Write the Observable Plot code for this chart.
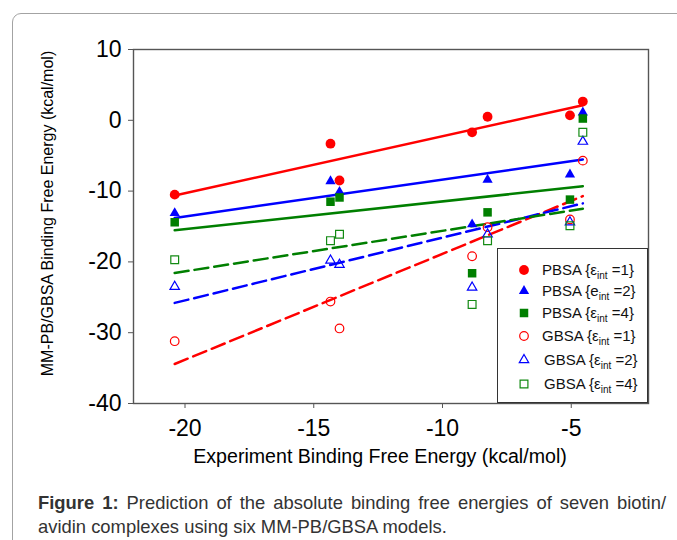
<!DOCTYPE html>
<html><head><meta charset="utf-8">
<script src="https://cdn.jsdelivr.net/npm/d3@7"></script>
<script src="https://cdn.jsdelivr.net/npm/@observablehq/plot@0.6"></script>
<style>
html,body{margin:0;padding:0;background:#fff;}
#page{position:relative;width:677px;height:540px;overflow:hidden;font-family:"Liberation Sans",Arial,sans-serif;background:#fff;}
#card{position:absolute;left:12px;top:13px;width:720px;height:620px;border:1px solid #a3a3a3;border-radius:9px;}
#chart{position:absolute;left:0;top:0;}
#legend{position:absolute;left:497px;top:248px;width:151px;height:155px;border:1.5px solid #333;background:#fff;box-sizing:border-box;}
.lrow{position:absolute;left:0;width:150px;height:0;}
.lrow svg{position:absolute;top:-8px;}
.lrow .txt{position:absolute;top:-9px;font-size:15px;line-height:18px;color:#111;white-space:nowrap;}
.lrow sub{font-size:10px;vertical-align:-4px;line-height:0;}
#caption{position:absolute;left:38px;top:491px;width:628px;font-size:18.4px;line-height:24px;color:#333;}
#caption .l1{text-align:justify;text-align-last:justify;white-space:nowrap;}
</style></head>
<body>
<div id="page">
  <div id="card"></div>
  <div id="chart"></div>
  <div id="legend"></div>
  <div id="caption">
    <div class="l1"><b>Figure 1:</b> Prediction of the absolute binding free energies of seven biotin/</div>
    <div>avidin complexes using six MM-PB/GBSA models.</div>
  </div>
</div>
<script>
// Experimental binding free energies (kcal/mol), seven complexes
const experiment = [-20.4, -14.35, -14.0, -8.85, -8.25, -5.05, -4.55];
// Predicted binding free energies (kcal/mol)
const pbsa1 = [-10.5, -3.3, -8.5, -1.7, 0.5, 0.7, 2.65];
const pbsa2 = [-13.1, -8.6, -10.1, -14.7, -8.4, -7.65, 1.1];
const pbsa4 = [-14.4, -11.5, -10.9, -21.6, -13.0, -11.2, 0.25];
const gbsa1 = [-31.2, -25.6, -29.4, -19.2, -15.1, -14.0, -5.7];
const gbsa2 = [-23.5, -19.8, -20.4, -23.6, -16.1, -14.4, -3.0];
const gbsa4 = [-19.7, -17.0, -16.1, -26.0, -17.0, -14.9, -1.7];
// Legend text
const legendNames = [
  ["PBSA {ε", "int", " =1}"],
  ["PBSA {e", "int", " =2}"],
  ["PBSA {ε", "int", " =4}"],
  ["GBSA {ε", "int", " =1}"],
  ["GBSA {ε", "int", " =2}"],
  ["GBSA {ε", "int", " =4}"]
];
const xTicks = [-20, -15, -10, -5];
const yTicks = [10, 0, -10, -20, -30, -40];

const seriesValues = [pbsa1, pbsa2, pbsa4, gbsa1, gbsa2, gbsa4];
const styles = [
  {color:"#ff0000", symbol:"circle",   r:4.9, filled:true,  dash:null},
  {color:"#0000ff", symbol:"triangle", r:3.8, filled:true,  dash:null},
  {color:"#007f00", symbol:"square",   r:4.8, filled:true,  dash:null},
  {color:"#ff0000", symbol:"circle",   r:4.3, filled:false, dash:"14,6"},
  {color:"#0000ff", symbol:"triangle", r:3.5, filled:false, dash:"14,6"},
  {color:"#138a13", symbol:"square",   r:4.4, filled:false, dash:"14,6"}
];
const lineColors = ["#ff0000","#0000ff","#007f00","#ff0000","#0000ff","#007f00"];

const tables = seriesValues.map(vals => experiment.map((x, i) => ({x, y: vals[i]})));

const marks = [Plot.frame({stroke:"#555", strokeWidth:1.4})];
tables.forEach((t, k) => {
  marks.push(Plot.linearRegressionY(t, {x:"x", y:"y", ci:0, stroke:lineColors[k], strokeWidth:2.5,
    strokeDasharray: styles[k].dash || undefined}));
});
tables.forEach((t, k) => {
  const s = styles[k];
  marks.push(Plot.dot(t, {x:"x", y:"y", symbol:s.symbol, r:s.r,
    fill: s.filled ? s.color : "none", stroke: s.filled ? "none" : s.color, strokeWidth: s.filled ? 0 : 1.2}));
});
marks.push(Plot.axisX({ticks:xTicks, tickSize:5, tickPadding:11, fontSize:23, tickFormat:d=>String(d), label:null, stroke:"#555", fill:"#000"}));
marks.push(Plot.axisY({ticks:yTicks, tickSize:5, tickPadding:7, fontSize:23, tickFormat:d=>String(d), label:null, stroke:"#555", fill:"#000"}));
marks.push(Plot.text(["Experiment Binding Free Energy (kcal/mol)"], {frameAnchor:"bottom", textAnchor:"middle", dx:-11, dy:59, fontSize:19.6, fill:"#000"}));
marks.push(Plot.text(["MM-PB/GBSA Binding Free Energy (kcal/mol)"], {frameAnchor:"left", textAnchor:"middle", dx:-86, dy:-13, rotate:-90, fontSize:16, fill:"#000"}));

const chart = Plot.plot({
  width:677, height:480,
  marginLeft:133, marginRight:29, marginTop:49, marginBottom:77,
  x:{domain:[-22,-2]},
  y:{domain:[-40,10]},
  style:{fontFamily:"'Liberation Sans', Arial, sans-serif", background:"transparent", overflow:"visible"},
  marks
});
document.getElementById("chart").appendChild(chart);

// Legend
const legend = document.getElementById("legend");
const rowY = [21, 42, 64, 87, 111, 135];
const textX = [44, 44, 44, 44, 46, 46];
legendNames.forEach((nm, k) => {
  const s = styles[k];
  const row = document.createElement("div");
  row.className = "lrow";
  row.style.top = rowY[k] + "px";
  const svg = d3.create("svg").attr("width", 16).attr("height", 16).style("left", "18px");
  const sym = {circle:d3.symbolCircle, triangle:d3.symbolTriangle, square:d3.symbolSquare}[s.symbol];
  svg.append("path").attr("transform","translate(8,8)")
    .attr("d", d3.symbol(sym, s.r*s.r*Math.PI)())
    .attr("fill", s.filled ? s.color : "none")
    .attr("stroke", s.filled ? "none" : s.color)
    .attr("stroke-width", 1.2);
  row.appendChild(svg.node());
  const txt = document.createElement("div");
  txt.className = "txt";
  txt.style.left = textX[k] + "px";
  txt.innerHTML = nm[0] + "<sub>" + nm[1] + "</sub>" + nm[2];
  row.appendChild(txt);
  legend.appendChild(row);
});
</script>
</body></html>
